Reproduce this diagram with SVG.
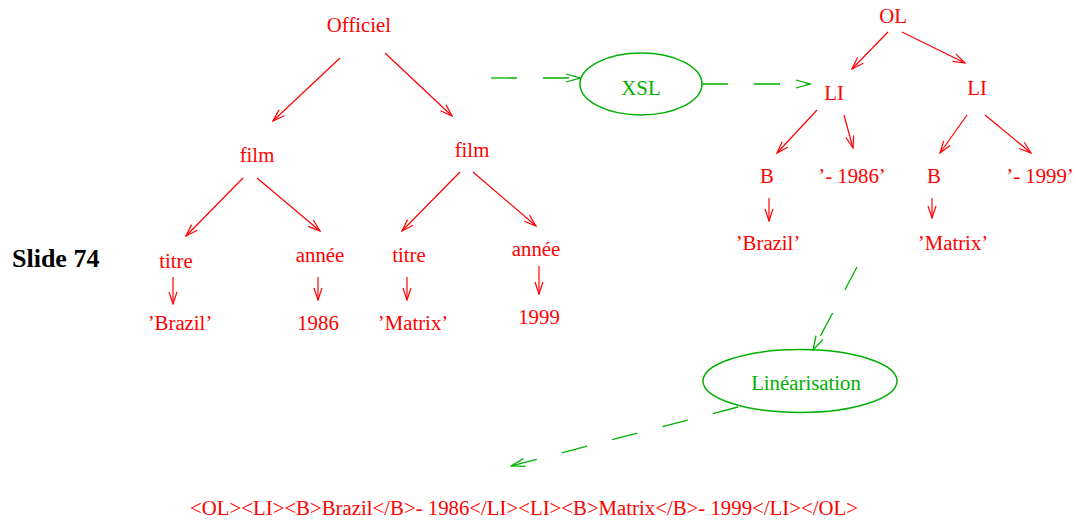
<svg xmlns="http://www.w3.org/2000/svg" width="1076" height="523" viewBox="0 0 1076 523">
<style>
text{font-family:"Liberation Serif","Times New Roman",serif;font-size:20.8px;text-anchor:middle}
.r{fill:#ff0000}
.g{fill:#00b000}
.e{stroke:#ff0000;stroke-width:1.2;fill:none}
.d{stroke:#00b000;stroke-width:1.3;fill:none;stroke-dasharray:26 26}
.el{stroke:#00b000;stroke-width:1.5;fill:none}
</style>
<defs>
<marker id="ar" markerUnits="userSpaceOnUse" markerWidth="14" markerHeight="12" refX="13" refY="5" orient="auto" viewBox="0 0 14 10">
<path d="M1,1 L13,5 L1,9" fill="none" stroke="#ff0000" stroke-width="1.2"/>
</marker>
<marker id="ag" markerUnits="userSpaceOnUse" markerWidth="16" markerHeight="12" refX="15" refY="5" orient="auto" viewBox="0 0 16 10">
<path d="M1,1 L15,5 L1,9" fill="none" stroke="#00b000" stroke-width="1.3"/>
</marker>
</defs>
<rect width="1076" height="523" fill="#ffffff"/>
<text x="12" y="267" style="font-weight:bold;font-size:26px;text-anchor:start">Slide 74</text>
<g id="connectors">
<line class="e" x1="340" y1="58" x2="273" y2="121" marker-end="url(#ar)"/>
<line class="e" x1="385" y1="53" x2="452" y2="116" marker-end="url(#ar)"/>
<line class="e" x1="243" y1="178" x2="186" y2="236" marker-end="url(#ar)"/>
<line class="e" x1="257" y1="178" x2="320" y2="231" marker-end="url(#ar)"/>
<line class="e" x1="460" y1="172" x2="402" y2="231" marker-end="url(#ar)"/>
<line class="e" x1="473" y1="172" x2="536" y2="226" marker-end="url(#ar)"/>
<line class="e" x1="173" y1="277" x2="173" y2="304" marker-end="url(#ar)"/>
<line class="e" x1="318" y1="277" x2="318" y2="300" marker-end="url(#ar)"/>
<line class="e" x1="407" y1="277" x2="407" y2="300" marker-end="url(#ar)"/>
<line class="e" x1="539" y1="266" x2="539" y2="294" marker-end="url(#ar)"/>
<line class="e" x1="888" y1="32" x2="852" y2="69" marker-end="url(#ar)"/>
<line class="e" x1="902" y1="32" x2="965" y2="63" marker-end="url(#ar)"/>
<line class="e" x1="817" y1="110" x2="777" y2="153" marker-end="url(#ar)"/>
<line class="e" x1="844" y1="115" x2="853" y2="148" marker-end="url(#ar)"/>
<line class="e" x1="967" y1="115" x2="940" y2="153" marker-end="url(#ar)"/>
<line class="e" x1="985" y1="115" x2="1031" y2="153" marker-end="url(#ar)"/>
<line class="e" x1="769" y1="198" x2="769" y2="221" marker-end="url(#ar)"/>
<line class="e" x1="932" y1="198" x2="932" y2="218" marker-end="url(#ar)"/>
<line class="d" x1="491" y1="78" x2="580" y2="78" marker-end="url(#ag)"/>
<line class="d" x1="702" y1="84" x2="810" y2="84" marker-end="url(#ag)"/>
<line class="d" x1="857" y1="267" x2="813" y2="350" marker-end="url(#ag)"/>
<line class="d" x1="738" y1="407" x2="511" y2="466" marker-end="url(#ag)"/>
</g>
<g id="n-officiel"><text class="r" x="359" y="32">Officiel</text></g>
<g id="n-film1"><text class="r" x="257" y="162">film</text></g>
<g id="n-film2"><text class="r" x="472" y="157">film</text></g>
<g id="n-titre1"><text class="r" x="176" y="268">titre</text></g>
<g id="n-annee1"><text class="r" x="320" y="262">année</text></g>
<g id="n-titre2"><text class="r" x="409" y="262">titre</text></g>
<g id="n-annee2"><text class="r" x="536" y="256">année</text></g>
<g id="n-brazil1"><text class="r" x="180" y="330">’Brazil’</text></g>
<g id="n-1986"><text class="r" x="318" y="330">1986</text></g>
<g id="n-matrix1"><text class="r" x="413" y="330">’Matrix’</text></g>
<g id="n-1999"><text class="r" x="539" y="324">1999</text></g>
<g id="n-xsl"><ellipse class="el" cx="641" cy="84" rx="61" ry="31"/><text class="g" x="641" y="95">XSL</text></g>
<g id="n-ol"><text class="r" x="893" y="23">OL</text></g>
<g id="n-li1"><text class="r" x="834" y="100">LI</text></g>
<g id="n-li2"><text class="r" x="977" y="95">LI</text></g>
<g id="n-b1"><text class="r" x="767" y="183">B</text></g>
<g id="n-s1986"><text class="r" x="852" y="183">’- 1986’</text></g>
<g id="n-b2"><text class="r" x="934" y="183">B</text></g>
<g id="n-s1999"><text class="r" x="1040" y="183">’- 1999’</text></g>
<g id="n-brazil2"><text class="r" x="768" y="250">’Brazil’</text></g>
<g id="n-matrix2"><text class="r" x="953" y="250">’Matrix’</text></g>
<g id="n-lin"><ellipse class="el" cx="800" cy="381" rx="97" ry="31.5"/><text class="g" x="806" y="390">Linéarisation</text></g>
<g id="n-out"><text class="r" x="524" y="515">&lt;OL&gt;&lt;LI&gt;&lt;B&gt;Brazil&lt;/B&gt;- 1986&lt;/LI&gt;&lt;LI&gt;&lt;B&gt;Matrix&lt;/B&gt;- 1999&lt;/LI&gt;&lt;/OL&gt;</text></g>
</svg>
